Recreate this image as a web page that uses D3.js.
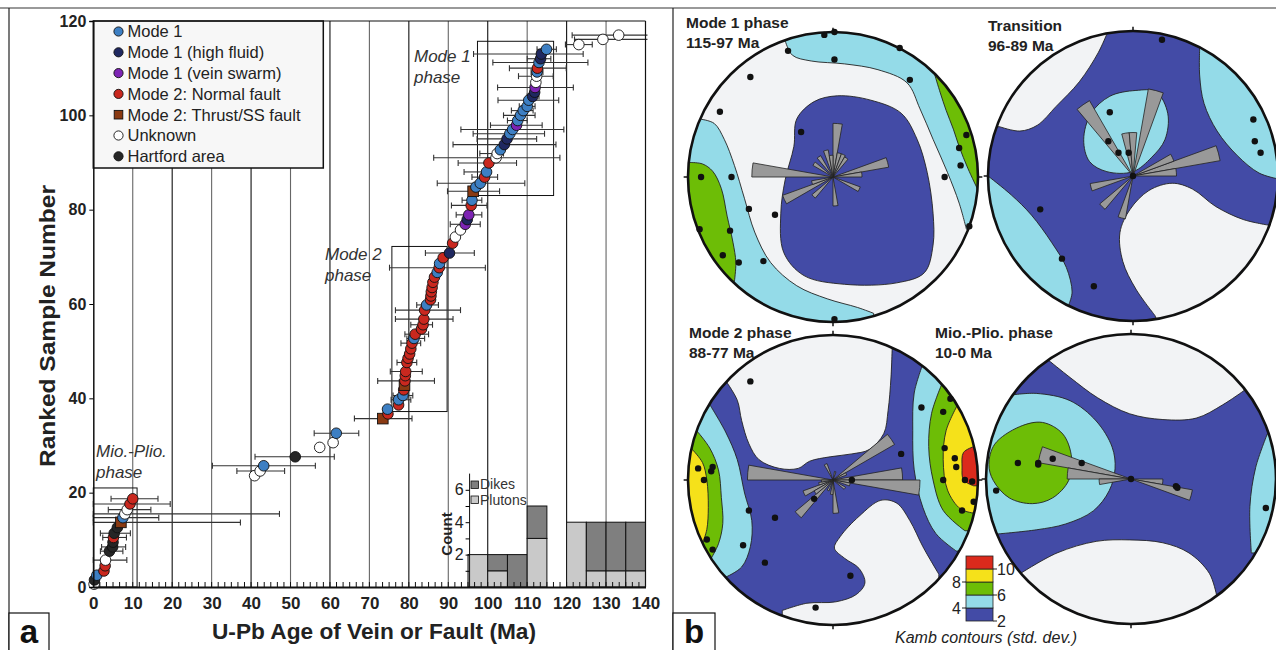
<!DOCTYPE html>
<html>
<head>
<meta charset="utf-8">
<script src="https://cdn.jsdelivr.net/npm/d3@7"></script>
<style>
  body { margin: 0; background: #fff; }
  svg { display: block; }
  text { font-family: "Liberation Sans", Arial, sans-serif; }
</style>
</head>
<body>
<svg id="fig" width="1276" height="650"></svg>
<script>
// ---------- panel a data ----------
const catKeys = ['m1', 'hf', 'vs', 'nf', 'tf', 'un', 'ha'];
const catNames = ['Mode 1', 'Mode 1 (high fluid)', 'Mode 1 (vein swarm)', 'Mode 2: Normal fault',
                  'Mode 2: Thrust/SS fault', 'Unknown', 'Hartford area'];
const catColors = ['#3d7fc3', '#1f2860', '#7d24b4', '#c9281f', '#8a3a12', '#ffffff', '#262626'];

// [age (Ma), ranked sample number, category, error low, error high]
const samples = [
  [0.2, 0.6, 'un'], [0.3, 1.5, 'ha'], [0.9, 2.5, 'm1'], [2.7, 3.4, 'nf'], [3.0, 4.5, 'nf'],
  [3.1, 5.7, 'un', 0, 8.5], [4.1, 7.6, 'ha', 1.8, 7.5], [4.9, 8.5, 'ha', 2.1, 8.2], [5.0, 9.5, 'ha'],
  [5.1, 10.5, 'nf', 2.4, 8.4], [5.3, 11.4, 'ha', 1.8, 9.4], [6.1, 12.6, 'ha'], [7.0, 13.7, 'tf', 0, 37.3],
  [7.5, 14.7, 'm1', 0, 16.6], [8.0, 15.5, 'un', 0, 47.2], [8.6, 16.4, 'un', 3.8, 14.6],
  [9.3, 17.6, 'nf', 0, 19.5], [10.0, 18.7, 'nf', 4.5, 16.4],
  [40.9, 23.6, 'un'], [42.3, 24.6, 'un', 36.4, 48.5], [43.2, 25.7, 'm1', 30.2, 56.3],
  [51.2, 27.6, 'ha', 41, 61.1], [57.4, 29.6, 'un'], [60.8, 30.6, 'un'], [61.6, 32.6, 'm1', 56, 67.3],
  [73.4, 35.7, 'tf', 66.2, 80.8], [74.7, 36.7, 'nf'], [74.6, 37.7, 'm1'], [77.4, 38.6, 'nf'],
  [77.4, 39.7, 'm1', 75.5, 80.5], [78.5, 40.6, 'm1', 76, 81], [78.7, 41.8, 'nf'], [78.9, 42.8, 'tf'],
  [79.0, 43.7, 'nf', 72.1, 86.5], [79.1, 44.8, 'nf'], [79.2, 45.7, 'nf', 75.3, 83.4], [79.5, 47.6, 'nf', 77, 82],
  [79.8, 48.5, 'nf'], [80.2, 49.4, 'nf'], [80.5, 50.5, 'nf'], [80.8, 51.7, 'nf', 78, 83], [81.3, 52.7, 'm1', 79.5, 84],
  [81.6, 53.6, 'nf', 79, 85], [83.2, 54.7, 'nf'], [83.6, 55.6, 'nf', 80.5, 86], [83.8, 56.8, 'nf', 76.6, 91.2],
  [84.0, 58.7, 'nf', 76.6, 93.1], [84.5, 59.8, 'm1', 82, 87.5], [85.5, 60.9, 'nf'], [85.6, 61.7, 'nf'],
  [85.7, 62.6, 'nf'], [85.9, 63.5, 'nf'], [86.1, 64.6, 'nf'], [86.5, 65.7, 'nf'], [87.2, 66.7, 'm1'],
  [87.7, 67.7, 'nf', 75.1, 99.4], [87.8, 68.6, 'm1'], [88.7, 69.8, 'nf'], [90.3, 70.8, 'hf', 84.2, 96.6],
  [91.1, 72.9, 'nf'], [91.8, 74.2, 'un'], [93.1, 75.7, 'un'], [94.3, 76.9, 'vs', 90.5, 98.1],
  [94.8, 77.9, 'hf'], [95.2, 78.9, 'vs', 92, 98.5], [95.8, 80.9, 'nf', 90.8, 99.8], [96.0, 82.0, 'm1', 93.5, 98.5],
  [96.3, 83.9, 'tf', 89.8, 103.0], [97.0, 84.8, 'm1'], [98.1, 85.6, 'm1', 87.2, 109.4], [99.2, 86.9, 'nf', 96, 102.5],
  [99.7, 88.0, 'm1', 94, 100.5], [100.3, 89.9, 'nf', 92.5, 107.3], [102.1, 91.0, 'un', 86.3, 118.3],
  [102.4, 91.9, 'un', 98, 104], [103.2, 92.7, 'm1'], [104.2, 93.8, 'hf', 91.2, 117.3], [104.9, 95.0, 'hf', 97.3, 112.4],
  [105.6, 96.1, 'm1', 96.3, 114.4], [106.3, 97.0, 'm1', 93.2, 119.3], [107.3, 97.9, 'vs', 100.7, 113.8],
  [107.6, 98.9, 'm1', 105, 110], [108.3, 100.0, 'm1', 104, 112], [109.0, 101.0, 'm1', 106, 111.5],
  [110.0, 101.9, 'm1', 108, 112], [110.4, 103.2, 'm1', 102.6, 118], [111.4, 104.0, 'hf', 110, 113],
  [111.9, 104.9, 'hf'], [112.0, 105.9, 'vs', 102.5, 121.7], [112.2, 107.0, 'un'], [112.4, 108.3, 'un', 107.8, 116.6],
  [112.5, 109.2, 'm1', 111, 114], [112.6, 110.0, 'nf', 105.5, 119.9], [113.0, 111.2, 'm1', 101.3, 125.4],
  [113.4, 112.0, 'hf', 110, 116], [113.6, 113.0, 'hf', 96.4, 124.2], [114.9, 114.0, 'm1', 112.5, 117.4],
  [123.1, 115.0, 'un', 119.7, 126.5], [129.2, 116.1, 'un', 122, 141], [133.2, 117.0, 'un', 121.4, 141]
];

const xTicks = [0, 10, 20, 30, 40, 50, 60, 70, 80, 90, 100, 110, 120, 130, 140];
const yTicks = [0, 20, 40, 60, 80, 100, 120];

// intrusion age histogram (5 Ma bins)
const histBins = [95, 100, 105, 110, 115, 120, 125, 130, 135];
const plutonCounts = [2, 1, 0, 3, 0, 4, 1, 1, 1];
const dikeCounts = [0, 1, 2, 2, 0, 0, 3, 3, 3];
const countTicks = [2, 4, 6];

// phase windows: [age min, age max, rank min, rank max]
const phaseBoxes = [[0, 11.1, 0, 21], [75.7, 89.7, 37.2, 72.2], [97.4, 116.7, 83, 115.7]];

// ---------- panel b data (unit stereonet coords, x east, y south) ----------
const kambColors = ['#f2f3f5', '#434ba6', '#94dbe8', '#6dbd06', '#f5e11a', '#db2a1c'];
const kambTicks = [2, 4, 6, 8, 10];

const mode1Layers = [
  {lv: 1, closed: true, edge: [[0.03,-0.56],[0.26,-0.53],[0.47,-0.44],[0.58,-0.26],[0.65,-0.03],[0.69,0.25],[0.69,0.47],[0.63,0.66],[0.44,0.73],[0.08,0.74],[-0.20,0.68],[-0.34,0.52],[-0.36,0.25],[-0.33,0.02],[-0.27,-0.21],[-0.25,-0.40],[-0.13,-0.52]]},
  {lv: 2, edge: [[-0.33,-0.94],[-0.28,-0.84],[-0.15,-0.80],[0.08,-0.78],[0.31,-0.74],[0.51,-0.65],[0.60,-0.47],[0.69,-0.26],[0.79,-0.03],[0.87,0.18],[0.92,0.36]], out: [[1.3,0.4],[1.3,-1.3],[-0.33,-1.3]]},
  {lv: 3, edge: [[0.70,-0.71],[0.74,-0.58],[0.78,-0.46],[0.83,-0.33],[0.87,-0.21],[0.93,-0.06],[1.0,0.09]], out: [[1.3,0.1],[1.3,-0.9],[0.70,-0.9]]},
  {lv: 2, edge: [[-0.92,-0.40],[-0.82,-0.37],[-0.75,-0.26],[-0.68,-0.08],[-0.61,0.15],[-0.54,0.38],[-0.43,0.59],[-0.25,0.75],[-0.04,0.84],[0.17,0.90],[0.28,0.94]], out: [[0.3,1.3],[-1.3,1.3],[-1.3,-0.40]]},
  {lv: 3, edge: [[-0.98,-0.10],[-0.90,-0.09],[-0.83,-0.04],[-0.77,0.08],[-0.73,0.27],[-0.69,0.45],[-0.67,0.59],[-0.68,0.72]], out: [[-1.3,0.72],[-1.3,-0.10]]}
];
const mode1Rose = [[5,0.37],[15,0.17],[25,0.17],[35,0.16],[75,0.39],[85,0.2],[115,0.2],[175,0.2],[225,0.19],[245,0.37],[255,0.15],[275,0.56],[305,0.16],[325,0.17],[345,0.19],[355,0.15]];
const mode1Poles = [[-0.06,-0.98],[0.01,-1.0],[-0.31,-0.87],[0.01,-0.81],[0.46,-0.89],[-0.57,-0.69],[0.53,-0.67],[-0.78,-0.45],[-0.22,-0.31],[0.92,-0.29],[0.87,-0.20],[0.88,-0.08],[-0.91,0.0],[-0.70,0.0],[0.77,0.0],[-0.58,0.22],[-0.40,0.26],[-0.92,0.36],[-0.71,0.37],[0.94,0.34],[-0.76,0.54],[-0.65,0.59],[-0.48,0.58],[0.01,0.98]];

const transLayers = [
  {lv: 0, edge: [[-0.18,-0.98],[-0.24,-0.85],[-0.37,-0.65],[-0.53,-0.48],[-0.66,-0.35],[-0.78,-0.31],[-0.92,-0.34]], out: [[-1.3,-0.34],[-1.3,-1.3],[-0.18,-1.3]]},
  {lv: 0, edge: [[0.94,0.34],[0.76,0.30],[0.57,0.21],[0.41,0.09],[0.27,0.05],[0.11,0.10],[-0.02,0.23],[-0.09,0.39],[-0.07,0.59],[0.02,0.78],[0.15,0.96]], out: [[0.3,1.3],[1.3,1.3],[1.3,0.34]]},
  {lv: 2, edge: [[0.46,-0.89],[0.46,-0.69],[0.49,-0.50],[0.58,-0.31],[0.72,-0.14],[0.87,-0.02],[1.0,0.02]], out: [[1.3,0.02],[1.3,-1.3],[0.46,-1.3]]},
  {lv: 2, edge: [[-1.0,0.0],[-0.84,0.13],[-0.70,0.27],[-0.56,0.46],[-0.46,0.63],[-0.42,0.80],[-0.44,0.88]], out: [[-0.44,1.3],[-1.3,1.3],[-1.3,0.0]]},
  {lv: 2, closed: true, edge: [[0.02,-0.59],[0.16,-0.58],[0.24,-0.43],[0.22,-0.25],[0.13,-0.13],[0.0,-0.03],[-0.18,-0.03],[-0.30,-0.10],[-0.34,-0.25],[-0.29,-0.43],[-0.16,-0.55]]}
];
const transRose = [[15,0.61],[325,0.6],[350,0.3],[0,0.3],[75,0.61],[65,0.3],[85,0.3],[255,0.3],[225,0.3],[195,0.3]];
const transPoles = [[0.20,-0.94],[0.83,-0.39],[0.84,-0.24],[0.88,-0.16],[-0.16,-0.44],[-0.17,-0.24],[-0.10,-0.16],[-0.03,-0.16],[0.0,0.0],[-0.64,0.23],[-0.49,0.57],[-0.27,0.76]];

const mode2Layers = [
  {lv: 0, edge: [[-0.73,-0.67],[-0.66,-0.55],[-0.63,-0.41],[-0.58,-0.25],[-0.51,-0.14],[-0.37,-0.08],[-0.24,-0.08],[-0.16,-0.13],[-0.02,-0.16],[0.13,-0.18],[0.25,-0.21],[0.35,-0.32],[0.38,-0.48],[0.40,-0.71],[0.41,-0.97]], out: [[0.41,-1.3],[-0.73,-1.3]]},
  {lv: 0, edge: [[-0.35,0.90],[-0.18,0.85],[0.02,0.84],[0.16,0.79],[0.22,0.71],[0.18,0.61],[0.08,0.54],[0.01,0.47],[0.05,0.39],[0.18,0.25],[0.33,0.14],[0.44,0.16],[0.53,0.28],[0.62,0.46],[0.73,0.65]], out: [[0.73,1.3],[-0.35,1.3]]},
  {lv: 2, edge: [[0.62,-0.80],[0.56,-0.60],[0.55,-0.34],[0.56,-0.07],[0.62,0.19],[0.71,0.37],[0.85,0.49]], out: [[1.3,0.49],[1.3,-1.3],[0.62,-1.3]]},
  {lv: 3, edge: [[0.75,-0.66],[0.68,-0.46],[0.66,-0.23],[0.69,0.0],[0.76,0.21],[0.91,0.35]], out: [[1.3,0.35],[1.3,-1.3],[0.75,-1.3]]},
  {lv: 4, edge: [[0.86,-0.52],[0.78,-0.34],[0.76,-0.14],[0.79,0.07],[0.88,0.20],[0.98,0.23]], out: [[1.3,0.23],[1.3,-0.7],[0.86,-0.7]]},
  {lv: 5, edge: [[0.97,-0.23],[0.90,-0.19],[0.89,-0.09],[0.90,0.0],[0.97,0.04]], out: [[1.3,0.04],[1.3,-0.23]]},
  {lv: 2, edge: [[-0.85,-0.52],[-0.74,-0.33],[-0.66,-0.14],[-0.61,0.09],[-0.56,0.28],[-0.57,0.46],[-0.63,0.60],[-0.74,0.67]], out: [[-1.3,0.67],[-1.3,-0.52]]},
  {lv: 3, edge: [[-0.94,-0.34],[-0.85,-0.22],[-0.79,-0.07],[-0.77,0.12],[-0.76,0.30],[-0.79,0.44],[-0.84,0.54]], out: [[-1.3,0.54],[-1.3,-0.34]]},
  {lv: 4, edge: [[-0.97,-0.21],[-0.90,-0.12],[-0.87,0.0],[-0.86,0.19],[-0.87,0.34],[-0.90,0.44]], out: [[-1.3,0.44],[-1.3,-0.21]]}
];
const mode2Rose = [[275,0.59],[55,0.49],[85,0.48],[95,0.6],[175,0.23],[225,0.34],[245,0.22],[335,0.12],[15,0.06],[65,0.1],[105,0.12],[125,0.1],[185,0.1],[205,0.08],[235,0.15],[255,0.1],[265,0.08]];
const mode2Poles = [[-0.57,-0.68],[0.61,-0.50],[0.76,-0.47],[0.81,-0.56],[0.47,-0.18],[0.77,-0.22],[0.84,-0.15],[0.85,-0.09],[0.91,0.0],[0.96,0.01],[0.76,0.0],[0.97,0.15],[0.89,0.21],[-0.93,-0.08],[-0.89,0.0],[-0.84,-0.06],[-0.83,-0.09],[-0.58,0.21],[-0.40,0.26],[-0.13,0.13],[0.13,0.0],[-0.62,0.45],[-0.87,0.41],[-0.83,0.48],[-0.47,0.57],[0.12,0.66],[-0.12,0.88]];

const mioLayers = [
  {lv: 0, edge: [[-0.57,-0.82],[-0.42,-0.70],[-0.23,-0.56],[-0.01,-0.45],[0.22,-0.41],[0.45,-0.42],[0.63,-0.51],[0.78,-0.61]], out: [[0.78,-1.3],[-0.57,-1.3]]},
  {lv: 0, edge: [[-0.76,0.65],[-0.51,0.51],[-0.24,0.43],[-0.01,0.42],[0.22,0.44],[0.40,0.51],[0.54,0.65],[0.59,0.80]], out: [[0.59,1.3],[-0.76,1.3]]},
  {lv: 2, edge: [[-0.82,-0.58],[-0.65,-0.59],[-0.42,-0.54],[-0.24,-0.40],[-0.13,-0.22],[-0.11,-0.07],[-0.15,0.08],[-0.26,0.22],[-0.45,0.31],[-0.65,0.35],[-0.93,0.38]], out: [[-1.3,0.38],[-1.3,-0.58]]},
  {lv: 3, closed: true, edge: [[-0.98,-0.10],[-0.94,-0.24],[-0.77,-0.36],[-0.61,-0.39],[-0.47,-0.31],[-0.41,-0.15],[-0.43,0.01],[-0.54,0.13],[-0.68,0.17],[-0.84,0.13],[-0.95,0.01]]},
  {lv: 2, edge: [[0.94,-0.31],[0.86,-0.08],[0.82,0.19],[0.83,0.51]], out: [[1.3,0.51],[1.3,-0.31]]}
];
const mioRose = [[285,0.65],[275,0.44],[265,0.22],[95,0.22],[105,0.43]];
const mioPoles = [[-0.78,-0.11],[-0.64,-0.11],[-0.64,-0.10],[-0.54,-0.14],[-0.34,-0.11],[0.0,0.0],[0.31,0.05],[0.32,0.06],[-0.93,0.08],[0.93,0.20]];

// ---------- drawing ----------
const svg = d3.select('#fig');

// frame
svg.append('line').attr('x1', 0).attr('x2', 1276).attr('y1', 8).attr('y2', 8).attr('stroke', '#777').attr('stroke-width', 1.5);
svg.append('line').attr('x1', 9).attr('x2', 9).attr('y1', 8).attr('y2', 650).attr('stroke', '#222').attr('stroke-width', 1.2);
svg.append('line').attr('x1', 673).attr('x2', 673).attr('y1', 8).attr('y2', 650).attr('stroke', '#222').attr('stroke-width', 1.2);

// ===== panel a =====
const x = d3.scaleLinear().domain([0, 140]).range([93.3, 645.5]);
const y = d3.scaleLinear().domain([0, 120]).range([587, 21]);
const hy = d3.scaleLinear().domain([0, 1]).range([587, 570.8]);

const pa = svg.append('g');

// vertical grid
pa.selectAll('line.grid').data(xTicks.slice(1, -1)).enter().append('line')
  .attr('x1', d => x(d)).attr('x2', d => x(d)).attr('y1', y(120)).attr('y2', y(0))
  .attr('stroke', d => d % 20 === 0 ? '#111' : '#666').attr('stroke-width', 1.1);

// phase windows
pa.selectAll('rect.phase').data(phaseBoxes).enter().append('rect')
  .attr('x', d => x(d[0])).attr('y', d => y(d[3]))
  .attr('width', d => x(d[1]) - x(d[0])).attr('height', d => y(d[2]) - y(d[3]))
  .attr('fill', 'none').attr('stroke', '#111').attr('stroke-width', 1);

// histogram
const hist = pa.append('g');
histBins.forEach((b, i) => {
  const p = plutonCounts[i], dk = dikeCounts[i];
  if (p > 0) hist.append('rect').attr('x', x(b)).attr('width', x(b + 5) - x(b))
    .attr('y', hy(p)).attr('height', hy(0) - hy(p)).attr('fill', '#c9c9c9').attr('stroke', '#111').attr('stroke-width', 1);
  if (dk > 0) hist.append('rect').attr('x', x(b)).attr('width', x(b + 5) - x(b))
    .attr('y', hy(p + dk)).attr('height', hy(p) - hy(p + dk)).attr('fill', '#7f7f7f').attr('stroke', '#111').attr('stroke-width', 1);
});
const hAxis = hist.append('g').attr('transform', `translate(${x(95.4)},0)`)
  .call(d3.axisLeft(hy).tickValues([1, 2, 3, 4, 5, 6]).tickSize(4).tickFormat(d => countTicks.includes(d) ? d : ''));
hAxis.select('.domain').attr('d', `M0,${hy(0)}V${hy(7)}`).attr('stroke', '#111');
hAxis.selectAll('text').attr('font-size', 16).attr('fill', '#222').attr('dx', 1);
hist.append('text').attr('transform', `translate(452,534) rotate(-90)`).attr('text-anchor', 'middle')
  .attr('font-size', 15).attr('font-weight', 'bold').attr('fill', '#222').text('Count');
[['Dikes', '#7f7f7f'], ['Plutons', '#c9c9c9']].forEach((d, i) => {
  hist.append('rect').attr('x', 471).attr('y', 481 + i * 15).attr('width', 7.5).attr('height', 7.5)
    .attr('fill', d[1]).attr('stroke', '#111').attr('stroke-width', 0.8);
  hist.append('text').attr('x', 480).attr('y', 489 + i * 15.5).attr('font-size', 14).attr('fill', '#333').text(d[0]);
});

// phase labels
const phaseText = [['Mode 1', 'phase', 414, 62], ['Mode 2', 'phase', 325, 260], ['Mio.-Plio.', 'phase', 96, 457]];
phaseText.forEach(d => {
  const t = pa.append('text').attr('x', d[2]).attr('y', d[3]).attr('font-size', 17).attr('font-style', 'italic').attr('fill', '#333');
  t.append('tspan').text(d[0]);
  t.append('tspan').attr('x', d[2]).attr('dy', 21).text(d[1]);
});

// error bars
const eb = pa.append('g').attr('stroke', '#333').attr('stroke-width', 1.1);
samples.filter(d => d.length > 3).forEach(d => {
  const x0 = x(d[3]), x1 = Math.min(x(d[4]), x(140.5)), yy = y(d[1]);
  eb.append('line').attr('x1', x0).attr('x2', x1).attr('y1', yy).attr('y2', yy);
  eb.append('line').attr('x1', x0).attr('x2', x0).attr('y1', yy - 3).attr('y2', yy + 3);
  if (d[4] <= 140) eb.append('line').attr('x1', x1).attr('x2', x1).attr('y1', yy - 3).attr('y2', yy + 3);
});

// sample points
function marker(g, cat, cx, cy, r) {
  const c = catColors[catKeys.indexOf(cat)];
  if (cat === 'tf') {
    g.append('rect').attr('x', cx - r).attr('y', cy - r).attr('width', 2 * r).attr('height', 2 * r)
      .attr('fill', c).attr('stroke', '#111').attr('stroke-width', 0.9);
  } else {
    g.append('circle').attr('cx', cx).attr('cy', cy).attr('r', r)
      .attr('fill', c).attr('stroke', '#111').attr('stroke-width', 0.9);
  }
}
const pts = pa.append('g');
samples.forEach(d => marker(pts, d[2], x(d[0]), y(d[1]), 5.3));

// legend
const lg = pa.append('g');
lg.append('rect').attr('x', 93.3).attr('y', 21).attr('width', 230).attr('height', 147)
  .attr('fill', '#f7f7f7').attr('stroke', '#111').attr('stroke-width', 1.5);
catNames.forEach((n, i) => {
  const yy = 31.5 + i * 20.8;
  marker(lg, catKeys[i], 118.5, yy, catKeys[i] === 'tf' ? 4.3 : 4.6);
  lg.append('text').attr('x', 127.5).attr('y', yy + 5.8).attr('font-size', 16.5).attr('fill', '#222').text(n);
});

// axes
const xAxis = pa.append('g').attr('transform', `translate(0,${y(0)})`)
  .call(d3.axisBottom(x).tickValues(xTicks).tickSize(0).tickPadding(10));
xAxis.select('.domain').attr('stroke', '#111').attr('stroke-width', 2);
xAxis.selectAll('text').attr('font-size', 17).attr('font-weight', 'bold').attr('fill', '#222');
pa.selectAll('line.minor').data(d3.range(0, 140.01, 10 / 6)).enter().append('line')
  .attr('x1', d => x(d)).attr('x2', d => x(d)).attr('y1', y(0)).attr('y2', y(0) - 5)
  .attr('stroke', '#111').attr('stroke-width', 1);
const yAxis = pa.append('g').attr('transform', `translate(${x(0)},0)`)
  .call(d3.axisLeft(y).tickValues(yTicks).tickSize(4).tickPadding(3));
yAxis.select('.domain').attr('stroke', '#111').attr('stroke-width', 1.5);
yAxis.selectAll('text').attr('font-size', 16).attr('font-weight', 'bold').attr('fill', '#222');
pa.append('line').attr('x1', x(0)).attr('x2', x(140)).attr('y1', y(120)).attr('y2', y(120)).attr('stroke', '#111').attr('stroke-width', 1.2);
pa.append('line').attr('x1', x(140)).attr('x2', x(140)).attr('y1', y(120)).attr('y2', y(0)).attr('stroke', '#111').attr('stroke-width', 1.2);

pa.append('text').attr('x', 374).attr('y', 639).attr('text-anchor', 'middle').attr('font-size', 22)
  .attr('font-weight', 'bold').attr('fill', '#222').attr('textLength', 324).attr('lengthAdjust', 'spacingAndGlyphs')
  .text('U-Pb Age of Vein or Fault (Ma)');
pa.append('text').attr('transform', 'translate(55,326) rotate(-90)').attr('text-anchor', 'middle').attr('font-size', 22)
  .attr('font-weight', 'bold').attr('fill', '#222').attr('textLength', 282).attr('lengthAdjust', 'spacingAndGlyphs')
  .text('Ranked Sample Number');

// panel letters
[['a', 9, 40], ['b', 673, 42]].forEach(d => {
  svg.append('rect').attr('x', d[1]).attr('y', 613).attr('width', d[2]).attr('height', 40)
    .attr('fill', '#fff').attr('stroke', '#111').attr('stroke-width', 1.2);
  svg.append('text').attr('x', d[1] + d[2] / 2).attr('y', 643).attr('text-anchor', 'middle')
    .attr('font-size', 33).attr('font-weight', 'bold').attr('fill', '#111').text(d[0]);
});

// ===== panel b =====
const nets = [
  {title: 'Mode 1 phase', sub: '115-97 Ma', tx: 686, ty: 28, cx: 833, cy: 177, base: 0, layers: mode1Layers, rose: mode1Rose, poles: mode1Poles},
  {title: 'Transition', sub: '96-89 Ma', tx: 988, ty: 31, cx: 1133, cy: 176, base: 1, layers: transLayers, rose: transRose, poles: transPoles},
  {title: 'Mode 2 phase', sub: '88-77 Ma', tx: 689, ty: 338, cx: 833, cy: 480, base: 1, layers: mode2Layers, rose: mode2Rose, poles: mode2Poles},
  {title: 'Mio.-Plio. phase', sub: '10-0 Ma', tx: 935, ty: 338, cx: 1131, cy: 479, base: 1, layers: mioLayers, rose: mioRose, poles: mioPoles}
];
const R = 145;
const defs = svg.append('defs');

nets.forEach((n, k) => {
  const sx = d3.scaleLinear().domain([-1, 1]).range([n.cx - R, n.cx + R]);
  const sy = d3.scaleLinear().domain([-1, 1]).range([n.cy - R, n.cy + R]);
  defs.append('clipPath').attr('id', 'net' + k).append('circle').attr('cx', n.cx).attr('cy', n.cy).attr('r', R);
  const g = svg.append('g');
  const c = g.append('g').attr('clip-path', `url(#net${k})`);
  c.append('circle').attr('cx', n.cx).attr('cy', n.cy).attr('r', R).attr('fill', kambColors[n.base]);
  const line = d3.line().x(d => sx(d[0])).y(d => sy(d[1]));
  n.layers.forEach(L => {
    let p;
    if (L.closed) p = line.curve(d3.curveCatmullRomClosed)(L.edge);
    else p = line.curve(d3.curveCatmullRom)(L.edge) + L.out.map(d => `L${sx(d[0])},${sy(d[1])}`).join('') + 'Z';
    c.append('path').attr('d', p).attr('fill', kambColors[L.lv]).attr('stroke', '#222').attr('stroke-width', 0.9);
  });
  // rose
  const arc = d3.arc().innerRadius(0);
  g.append('g').attr('transform', `translate(${n.cx},${n.cy})`).selectAll('path').data(n.rose).enter().append('path')
    .attr('d', d => arc({outerRadius: d[1] * R, startAngle: (d[0] - 5) * Math.PI / 180, endAngle: (d[0] + 5) * Math.PI / 180}))
    .attr('fill', '#999').attr('stroke', '#222').attr('stroke-width', 0.8);
  // poles
  g.selectAll('circle.pole').data(n.poles).enter().append('circle')
    .attr('cx', d => sx(d[0])).attr('cy', d => sy(d[1])).attr('r', 3.2).attr('fill', '#111');
  // primitive
  g.append('circle').attr('cx', n.cx).attr('cy', n.cy).attr('r', R).attr('fill', 'none').attr('stroke', '#111').attr('stroke-width', 2.6);
  [[0, -1], [1, 0], [0, 1], [-1, 0]].forEach(d => {
    g.append('line').attr('x1', sx(d[0])).attr('y1', sy(d[1])).attr('x2', sx(d[0] * 1.03)).attr('y2', sy(d[1] * 1.03))
      .attr('stroke', '#111').attr('stroke-width', 1.5);
  });
  const t = svg.append('text').attr('x', n.tx).attr('y', n.ty).attr('font-size', 15.5).attr('font-weight', 'bold').attr('fill', '#222');
  t.append('tspan').text(n.title);
  t.append('tspan').attr('x', n.tx).attr('dy', 19.5).text(n.sub);
});

// colour bar
const cb = d3.scaleLinear().domain([2, 12]).range([621, 556]);
const cbg = svg.append('g');
[1, 2, 3, 4, 5].forEach(i => {
  cbg.append('rect').attr('x', 966).attr('width', 27).attr('y', cb(2 * i + 2)).attr('height', cb(2 * i) - cb(2 * i + 2))
    .attr('fill', kambColors[i]).attr('stroke', '#222').attr('stroke-width', 0.8);
});
kambTicks.forEach((v, i) => {
  const right = i % 2 === 0;
  cbg.append('line').attr('x1', right ? 993 : 966).attr('x2', right ? 997 : 962).attr('y1', cb(v)).attr('y2', cb(v))
    .attr('stroke', '#222').attr('stroke-width', 1);
  cbg.append('text').attr('x', right ? 997 : 961).attr('y', cb(v) + 6).attr('text-anchor', right ? 'start' : 'end')
    .attr('font-size', 16).attr('fill', '#222').text(v);
});
svg.append('text').attr('x', 986).attr('y', 643).attr('text-anchor', 'middle').attr('font-size', 16)
  .attr('font-style', 'italic').attr('fill', '#222').text('Kamb contours (std. dev.)');
</script>
</body>
</html>
